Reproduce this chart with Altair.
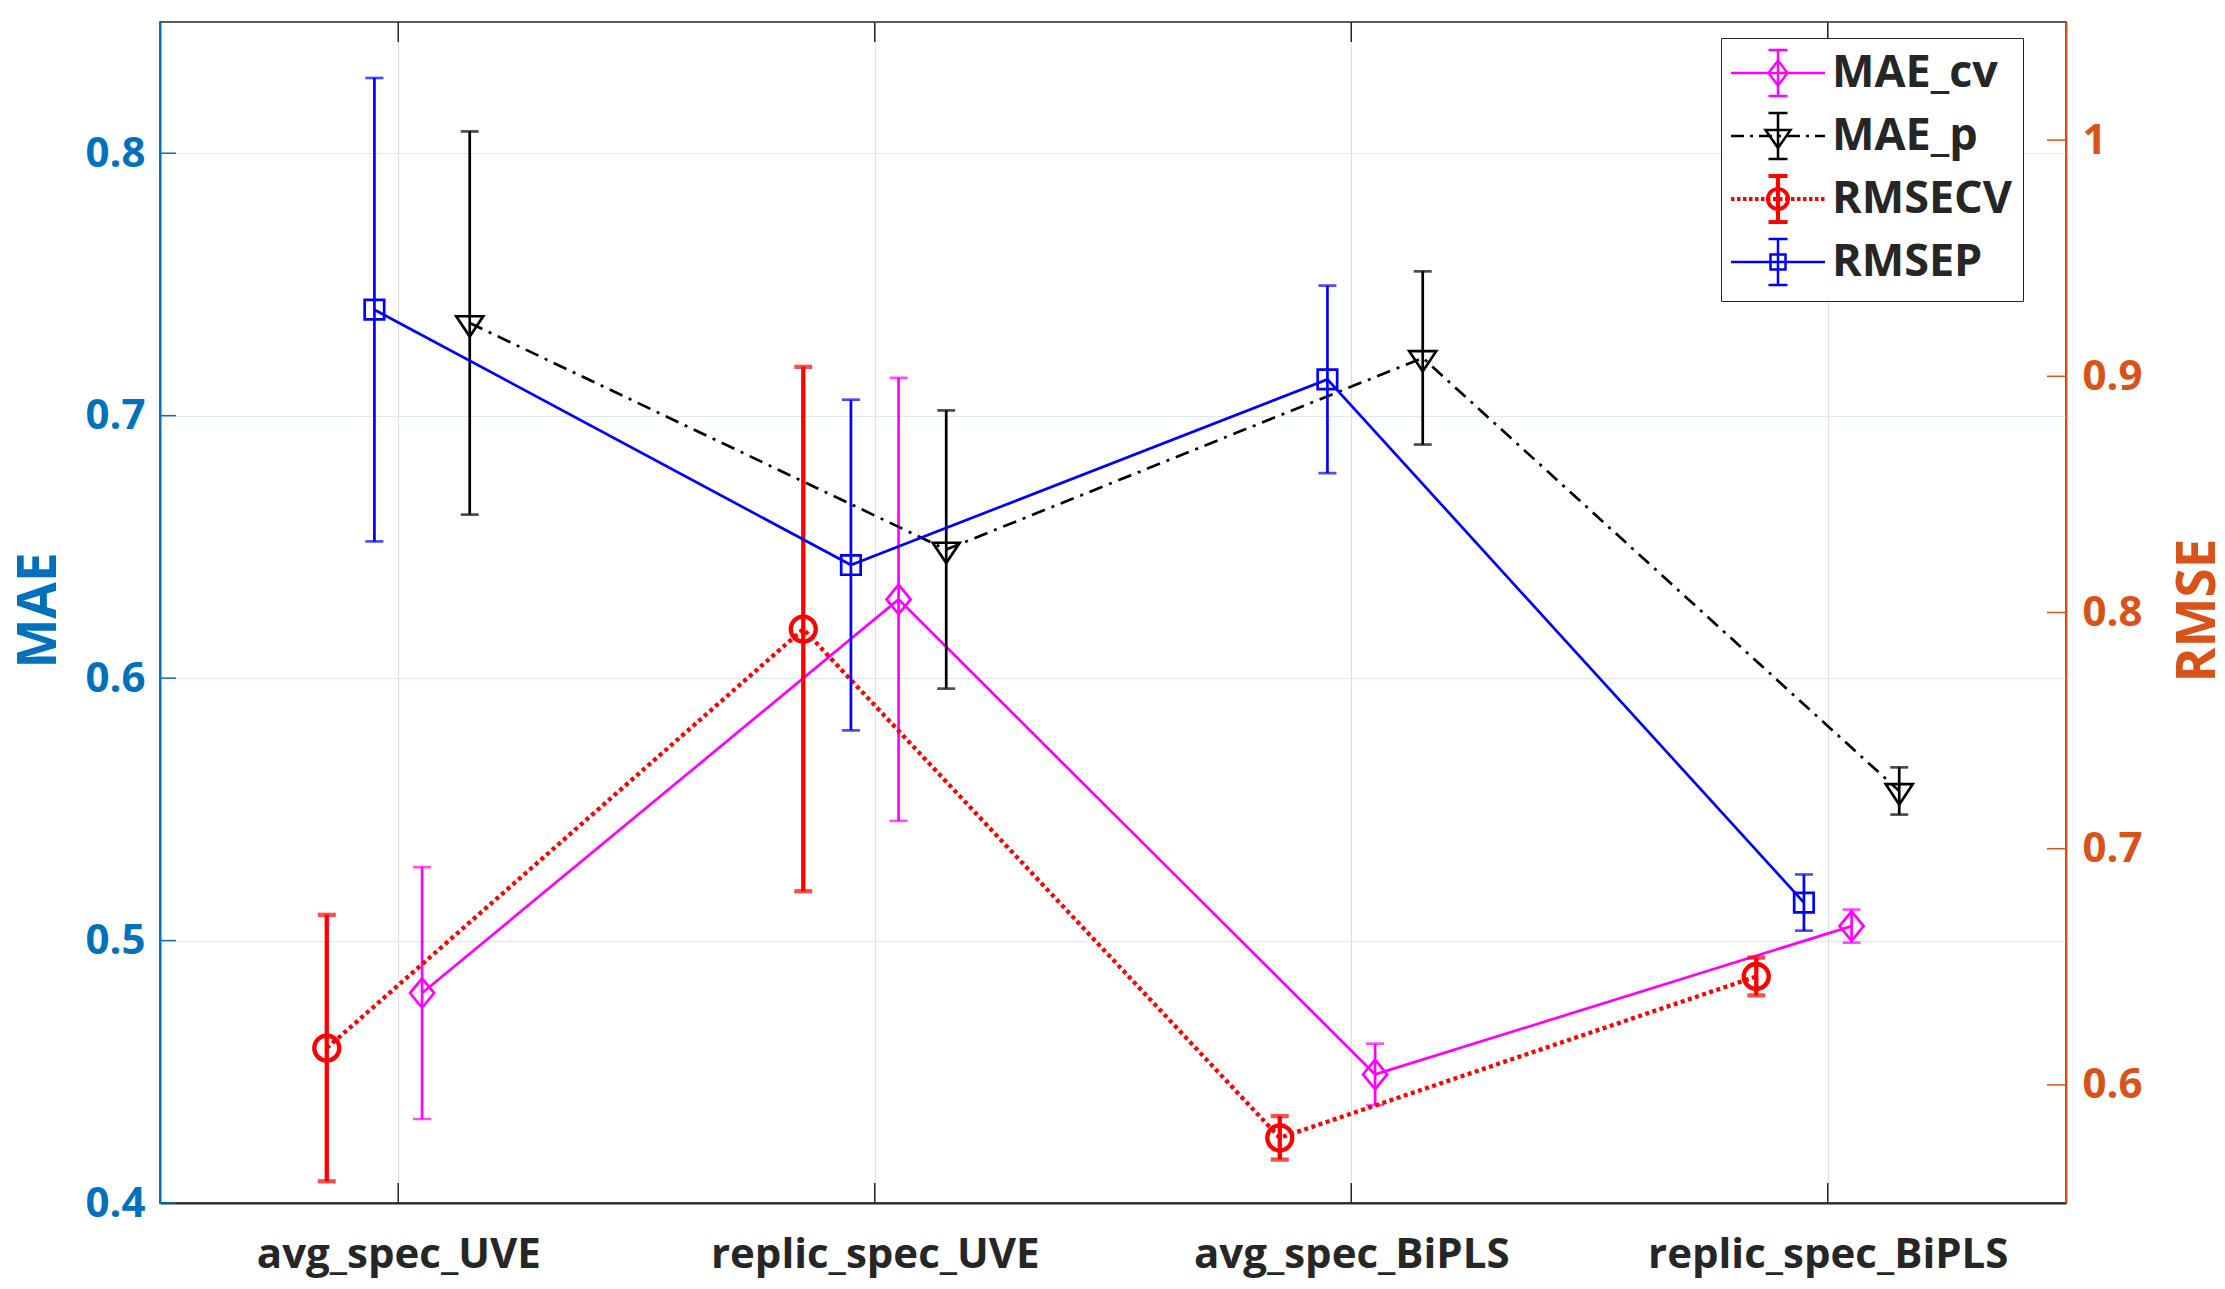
import json
import altair as alt
import pandas as pd

# ---------------- data ----------------
CATEGORIES = ["avg_spec_UVE", "replic_spec_UVE", "avg_spec_BiPLS", "replic_spec_BiPLS"]
SERIES = ["MAE_cv", "MAE_p", "RMSECV", "RMSEP"]

MAE_CV = [0.480, 0.630, 0.449, 0.5055]
MAE_CV_ERR = [0.048, 0.0844, 0.0117, 0.0063]
MAE_P = [0.7353, 0.649, 0.722, 0.557]
MAE_P_ERR = [0.073, 0.053, 0.033, 0.009]
RMSECV = [0.6156, 0.793, 0.5776, 0.6459]
RMSECV_ERR = [0.0564, 0.111, 0.0092, 0.008]
RMSEP = [0.9282, 0.8201, 0.8987, 0.6772]
RMSEP_ERR = [0.0981, 0.070, 0.0397, 0.0119]

LEFT_TICKS = [0.4, 0.5, 0.6, 0.7, 0.8]
RIGHT_TICKS = [0.6, 0.7, 0.8, 0.9, 1.0]
LEFT_DOMAIN = [0.4, 0.85]
RIGHT_DOMAIN = [0.55, 1.05]

VALUES = {
    "MAE_cv": (MAE_CV, MAE_CV_ERR),
    "MAE_p": (MAE_P, MAE_P_ERR),
    "RMSECV": (RMSECV, RMSECV_ERR),
    "RMSEP": (RMSEP, RMSEP_ERR),
}

# ---------------- layout / style ----------------
W, H = 1906, 1181
FONT = "Open Sans"
DARK = "#262626"
LEFT_COLOR = "#0072BD"
RIGHT_COLOR = "#D95319"
COLORS = ["#FF00FF", "#000000", "#FF0000", "#0000FF"]
COLOR_OF = dict(zip(SERIES, COLORS))
OFFSET = {"RMSECV": -0.15, "RMSEP": -0.05, "MAE_cv": 0.05, "MAE_p": 0.15}

STYLE = {
    "MAE_cv": dict(w=2.7, dash=None, shape="M0,-1L0.82,0L0,1L-0.82,0Z", size=864),
    "MAE_p": dict(w=2.7, dash=[14, 7, 3, 7], shape="M-1,-0.5L1,-0.5L0,1Z", size=729),
    "RMSECV": dict(w=4.3, dash=[4, 3.5], shape="circle", size=625),
    "RMSEP": dict(w=2.7, dash=None, shape="square", size=380),
}

# ---------------- legend symbol paths (unit = 23.5 px) ----------------
R = 23.5


def u(v):
    return v / R


def seg(x1, y1, x2, y2):
    return f"M{u(x1):.3f},{u(y1):.3f}L{u(x2):.3f},{u(y2):.3f}"


def dashed(pattern, offs=(0,), x0=-47.0, x1=47.0):
    out = []
    x, i = x0, 0
    while x < x1:
        L = pattern[i % len(pattern)]
        if i % 2 == 0:
            xe = min(x + L, x1)
            for d in offs:
                out.append(seg(x, d, xe, d))
        x += L
        i += 1
    return "".join(out)


def errbar(half=23.0, cap=9.5, offs=(0,)):
    s = ""
    for d in offs:
        s += seg(d, -half, d, half)
        s += seg(-cap, -half + d, cap, -half + d)
        s += seg(-cap, half + d, cap, half + d)
    return s


def poly(pts):
    return "M" + "L".join(f"{u(x):.3f},{u(y):.3f}" for x, y in pts) + "Z"


def circ(rr):
    a = u(rr)
    return f"M{a:.3f},0A{a:.3f},{a:.3f} 0 1,1 {-a:.3f},0A{a:.3f},{a:.3f} 0 1,1 {a:.3f},0Z"


LEGEND_PATHS = [
    seg(-47, 0, 47, 0) + errbar() + poly([(0, -12.5), (9.5, 0), (0, 12.5), (-9.5, 0)]),
    dashed([13, 6, 3, 6]) + errbar() + poly([(-12.5, -6), (12.5, -6), (0, 12)]),
    dashed([3.5, 2.5], offs=(-0.8, 0.8)) + errbar(offs=(-0.8, 0.8)) + circ(9.4) + circ(10.8),
    seg(-47, 0, 47, 0) + errbar() + poly([(-7.5, -7.5), (7.5, -7.5), (7.5, 7.5), (-7.5, 7.5)]),
]

# ---------------- table ----------------
rows = []
for s in SERIES:
    vals, errs = VALUES[s]
    for i, (v, e) in enumerate(zip(vals, errs)):
        rows.append(dict(series=s, cat=i + 1, pos=i + 1 + OFFSET[s], val=v, lo=v - e, hi=v + e))
df = pd.DataFrame(rows)
cat_df = pd.DataFrame({"c": list(range(1, len(CATEGORIES) + 1))})
lt_df = pd.DataFrame({"t": LEFT_TICKS})
rt_df = pd.DataFrame({"t": RIGHT_TICKS})

# ---------------- scales / axes ----------------
XS = alt.Scale(domain=[0.5, len(CATEGORIES) + 0.5], nice=False, zero=False)
XA = alt.Axis(
    values=list(range(1, len(CATEGORIES) + 1)),
    labelExpr=json.dumps(CATEGORIES).replace('"', "'") + "[datum.value - 1]",
    title=None, grid=True, gridColor="#DEDEDE", gridWidth=1,
    ticks=False, tickSize=0, domain=True, domainColor=DARK, domainWidth=2,
    labelFont=FONT, labelFontSize=42, labelFontWeight="bold", labelColor=DARK,
    labelPadding=31, labelFlush=False, labelOverlap=False, labelLimit=1000,
)
LS = alt.Scale(domain=LEFT_DOMAIN, nice=False, zero=False)
LA = alt.Axis(
    orient="left", values=LEFT_TICKS, format=".1f", title="MAE",
    grid=True, gridColor="#D9EAF5", gridWidth=1,
    ticks=False, tickSize=0, domain=True, domainColor=LEFT_COLOR, domainWidth=2,
    labelFont=FONT, labelFontSize=42, labelFontWeight="bold", labelColor=LEFT_COLOR,
    labelPadding=15, labelFlush=False, labelOverlap=False,
    titleFont=FONT, titleFontSize=53, titleFontWeight="bold", titleColor=LEFT_COLOR,
    titleX=-121, titleY=588, titleAngle=270, titleAlign="center", titleBaseline="middle",
)
RS = alt.Scale(domain=RIGHT_DOMAIN, nice=False, zero=False)
RA = alt.Axis(
    orient="right", values=RIGHT_TICKS, format="~g", title="RMSE",
    grid=False, ticks=False, tickSize=0, domain=True, domainColor=RIGHT_COLOR, domainWidth=2,
    labelFont=FONT, labelFontSize=42, labelFontWeight="bold", labelColor=RIGHT_COLOR,
    labelPadding=16, labelFlush=False, labelOverlap=False,
    titleFont=FONT, titleFontSize=53, titleFontWeight="bold", titleColor=RIGHT_COLOR,
    titleX=132, titleY=588, titleAngle=270, titleAlign="center", titleBaseline="middle",
)

LEGEND = alt.Legend(
    title=None, orient="none", legendX=1561, legendY=16, direction="vertical",
    symbolSize=R * R * 4, symbolStrokeWidth=2.5, symbolOffset=22, labelOffset=29,
    symbolOpacity=1, symbolFillColor="transparent",
    labelFont=FONT, labelFontSize=45, labelFontWeight="bold", labelColor=DARK, labelLimit=1000,
    rowPadding=5, padding=10, strokeColor=DARK, fillColor="white",
)
COLOR = alt.Color("series:N", scale=alt.Scale(domain=SERIES, range=COLORS), legend=LEGEND)
SHAPE = alt.Shape("series:N", scale=alt.Scale(domain=SERIES, range=LEGEND_PATHS), legend=LEGEND)
X = alt.X("pos:Q", scale=XS, axis=XA)


def series_layers(s, ys, ya):
    st = STYLE[s]
    col = alt.value(COLOR_OF[s])
    base = alt.Chart(df).transform_filter(alt.datum.series == s)
    line_kw = dict(strokeWidth=st["w"])
    if st["dash"]:
        line_kw["strokeDash"] = st["dash"]
    line = base.mark_line(**line_kw).encode(x=X, y=alt.Y("val:Q", scale=ys, axis=ya), color=col)
    bar = base.mark_rule(strokeWidth=st["w"]).encode(
        x=X, y=alt.Y("lo:Q", scale=ys, axis=ya), y2="hi:Q", color=col)
    cap_lo = base.mark_tick(orient="horizontal", size=18, thickness=st["w"]).encode(
        x=X, y=alt.Y("lo:Q", scale=ys, axis=ya), color=col)
    cap_hi = base.mark_tick(orient="horizontal", size=18, thickness=st["w"]).encode(
        x=X, y=alt.Y("hi:Q", scale=ys, axis=ya), color=col)
    pts = base.mark_point(shape=st["shape"], size=st["size"], filled=False,
                          strokeWidth=st["w"], opacity=1).encode(
        x=X, y=alt.Y("val:Q", scale=ys, axis=ya), color=col)
    return [line, bar, cap_lo, cap_hi, pts]


# invisible layer that only carries the legend (colour + composite symbol)
dummy = alt.Chart(df).mark_point(opacity=0, filled=False, strokeWidth=2.5).encode(
    x=X, y=alt.Y("val:Q", scale=LS, axis=LA), color=COLOR, shape=SHAPE)

left_ticks = alt.Chart(lt_df).mark_rule(color=LEFT_COLOR, strokeWidth=1.5).encode(
    y=alt.Y("t:Q", scale=LS, axis=LA), x=alt.value(0), x2=alt.value(16))
right_ticks = alt.Chart(rt_df).mark_rule(color=RIGHT_COLOR, strokeWidth=1.5).encode(
    y=alt.Y("t:Q", scale=RS, axis=RA), x=alt.value(W - 19), x2=alt.value(W))
xt_bottom = alt.Chart(cat_df).mark_rule(color=DARK, strokeWidth=1.5).encode(
    x=alt.X("c:Q", scale=XS, axis=XA), y=alt.value(H - 20), y2=alt.value(H))
xt_top = alt.Chart(cat_df).mark_rule(color=DARK, strokeWidth=1.5).encode(
    x=alt.X("c:Q", scale=XS, axis=XA), y=alt.value(0), y2=alt.value(20))

left_layers = [dummy, left_ticks, xt_bottom, xt_top]
for s in ["MAE_cv", "MAE_p"]:
    left_layers += series_layers(s, LS, LA)
right_layers = [right_ticks]
for s in ["RMSECV", "RMSEP"]:
    right_layers += series_layers(s, RS, RA)

left_group = alt.layer(*left_layers)
right_group = alt.layer(*right_layers)

chart = (
    alt.layer(left_group, right_group)
    .resolve_scale(y="independent")
    .properties(
        width=W, height=H,
        autosize=alt.AutoSizeParams(type="none"),
        padding={"left": 152, "top": 14, "right": 2209 - 152 - W, "bottom": 1273 - 14 - H},
        background="white",
    )
    .configure(font=FONT)
    .configure_view(stroke=DARK, strokeWidth=1.5)
)

chart.save("out.html", embed_options={"renderer": "svg", "actions": False})
